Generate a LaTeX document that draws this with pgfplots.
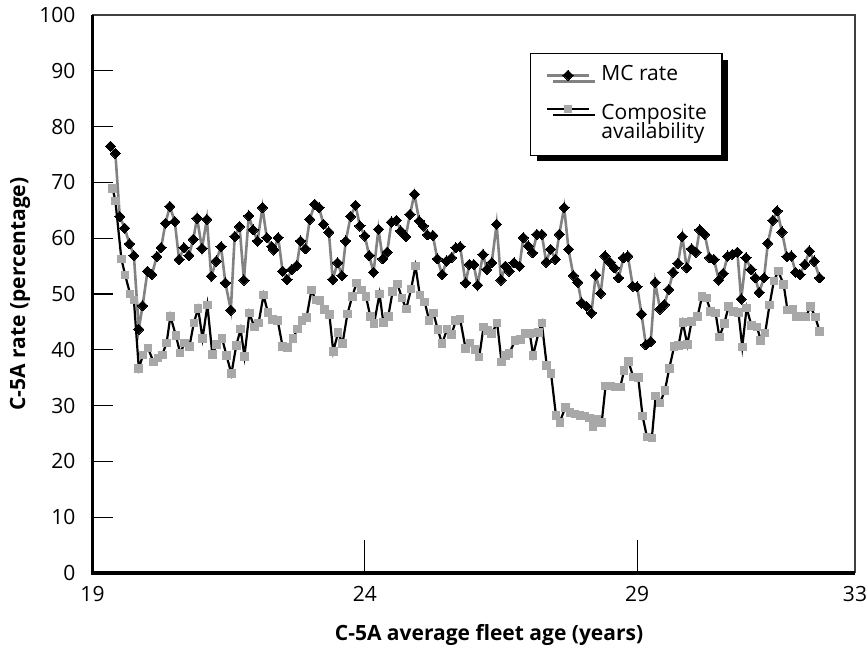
\documentclass[border=0pt]{standalone}
\usepackage{fontspec}
\setmainfont{Open Sans}
\usepackage{pgfplots}
\pgfplotsset{compat=1.18}
\usetikzlibrary{shadows}
\definecolor{mcline}{RGB}{130,130,130}
\definecolor{sqfill}{RGB}{168,168,168}
\pgfplotsset{
  baselegend/.style={legend image code/.code={\draw[mark repeat=2, mark phase=2, ##1] plot coordinates {(0pt,0pt) (10.5pt,0pt) (21pt,0pt)};}},
  raisedlegend/.style={legend image code/.code={\draw[mark repeat=2, mark phase=2, ##1] plot coordinates {(0pt,2.6pt) (10.5pt,2.6pt) (21pt,2.6pt)};}},
}
\begin{document}
\begin{tikzpicture}
\useasboundingbox (-46.25pt,-39.5pt) rectangle (387.75pt,286.5pt);
\begin{axis}[
  scale only axis,
  width=381.25pt, height=279pt,
  xmin=19, xmax=33, ymin=0, ymax=100,
  xtick={19,24,29,33},
  ytick={0,10,...,100},
  xtick style={draw=none},
  ytick pos=left,
  tick align=inside,
  major tick length=10pt,
  ytick style={line width=0.6pt,black},
  axis line style={draw=none},
  /pgf/number format/assume math mode=true,
  ticklabel style={font=\fontsize{10.5}{12}\selectfont},
  xticklabel style={yshift=-3pt},
  yticklabel style={xshift=-5pt},
  clip=false,
  baselegend,
  legend style={at={(0.574,0.932)}, anchor=north west, draw=black, line width=0.6pt, fill=white,
    drop shadow={shadow xshift=3pt, shadow yshift=-3pt, fill=black, opacity=1},
    font=\fontsize{10.5}{12}\selectfont, inner xsep=7.5pt, inner ysep=6pt, row sep=0pt, column sep=5.5pt,
    cells={anchor=west},
    nodes={inner xsep=0pt, inner ysep=0pt, text height=7.5pt, text depth=2.2pt}},
]
\addplot[mcline, line width=1.3pt, mark=square*, mark size=1.8pt, mark options={black, fill=black, rotate=45, line width=0pt}] coordinates {
(19.33,76.5)(19.42,75.2)(19.50,63.9)(19.59,61.8)(19.68,59.0)(19.76,56.9)(19.85,43.7)(19.92,47.9)
(20.01,54.1)(20.09,53.5)(20.18,56.7)(20.26,58.3)(20.34,62.7)(20.42,65.7)(20.51,63.0)(20.59,56.2)
(20.68,58.3)(20.77,56.9)(20.85,59.8)(20.92,63.6)(21.01,58.2)(21.10,63.4)(21.18,53.2)(21.27,55.9)
(21.36,58.5)(21.44,52.0)(21.54,47.1)(21.61,60.3)(21.70,62.1)(21.78,52.5)(21.87,64.0)(21.95,61.5)
(22.03,59.5)(22.12,65.5)(22.20,60.1)(22.29,58.5)(22.33,57.9)(22.41,60.1)(22.49,54.1)(22.57,52.6)
(22.66,54.4)(22.75,55.1)(22.82,59.5)(22.91,58.1)(22.99,63.4)(23.08,66.1)(23.16,65.5)(23.24,62.5)
(23.34,61.1)(23.41,52.6)(23.50,55.6)(23.58,53.3)(23.65,59.5)(23.74,63.9)(23.83,65.9)(23.91,62.2)
(24.00,60.4)(24.08,56.9)(24.16,53.9)(24.25,61.6)(24.33,56.3)(24.41,57.5)(24.49,62.9)(24.58,63.2)
(24.66,61.3)(24.75,60.3)(24.83,64.3)(24.91,67.9)(25.00,63.1)(25.07,62.2)(25.15,60.6)(25.25,60.5)
(25.33,56.3)(25.42,53.5)(25.50,55.9)(25.59,56.5)(25.67,58.3)(25.75,58.5)(25.85,52.0)(25.92,55.3)
(26.00,55.3)(26.07,51.6)(26.17,57.1)(26.24,54.4)(26.33,55.6)(26.42,62.5)(26.50,52.5)(26.58,55.0)
(26.65,54.1)(26.74,55.6)(26.84,55.0)(26.91,60.1)(27.00,58.6)(27.08,57.4)(27.16,60.7)(27.25,60.7)
(27.33,55.7)(27.41,58.0)(27.50,56.2)(27.57,60.7)(27.66,65.5)(27.74,58.0)(27.83,53.3)(27.91,52.1)
(27.98,48.4)(28.07,47.8)(28.16,46.6)(28.24,53.4)(28.33,50.1)(28.41,56.8)(28.50,55.7)(28.58,54.7)
(28.66,52.9)(28.75,56.5)(28.83,56.8)(28.92,51.4)(29.00,51.3)(29.08,46.4)(29.16,40.9)(29.25,41.5)
(29.33,52.1)(29.42,47.3)(29.50,48.1)(29.58,50.8)(29.66,53.9)(29.75,55.5)(29.83,60.3)(29.91,54.7)
(30.00,58.1)(30.08,57.5)(30.15,61.5)(30.24,60.7)(30.33,56.5)(30.41,56.2)(30.50,52.5)(30.58,53.7)
(30.66,56.8)(30.75,57.1)(30.84,57.5)(30.91,49.1)(31.00,56.5)(31.09,54.4)(31.17,52.9)(31.24,50.3)
(31.33,52.9)(31.40,59.1)(31.49,63.2)(31.57,64.9)(31.66,61.1)(31.75,56.7)(31.83,56.8)(31.91,53.9)
(31.99,53.5)(32.08,55.3)(32.16,57.7)(32.25,55.9)(32.35,52.9)
};
\addlegendentry{MC rate}
\addlegendimage{empty legend}
\addlegendentry{~}
\addplot[black, line width=1.1pt, mark=square*, mark size=1.9pt, mark options={sqfill, fill=sqfill, line width=0pt}, raisedlegend] coordinates {
(19.37,68.9)(19.42,66.7)(19.53,56.3)(19.60,53.4)(19.69,50.0)(19.76,48.9)(19.85,36.7)(19.93,39.1)
(20.02,40.3)(20.12,37.8)(20.20,38.5)(20.28,39.1)(20.36,41.2)(20.43,46.0)(20.53,42.6)(20.61,39.4)
(20.69,41.2)(20.78,40.6)(20.86,44.8)(20.94,47.4)(21.02,42.0)(21.11,48.0)(21.20,39.2)(21.28,40.9)
(21.38,42.0)(21.46,39.0)(21.55,35.7)(21.64,40.8)(21.72,43.7)(21.79,38.8)(21.88,46.6)(21.97,44.1)
(22.05,44.8)(22.14,49.8)(22.22,46.7)(22.31,45.4)(22.40,45.3)(22.49,40.6)(22.58,40.4)(22.68,42.0)
(22.76,43.7)(22.85,45.3)(22.93,45.8)(23.02,50.7)(23.10,48.9)(23.18,48.8)(23.26,47.2)(23.35,46.3)
(23.42,39.7)(23.51,43.1)(23.59,41.1)(23.68,46.4)(23.77,49.6)(23.85,52.0)(23.94,50.7)(24.02,49.6)
(24.10,46.0)(24.17,44.7)(24.27,50.0)(24.34,44.9)(24.43,46.0)(24.51,50.4)(24.60,51.8)(24.68,49.3)
(24.76,47.3)(24.85,50.9)(24.93,55.0)(25.01,49.8)(25.10,48.6)(25.18,45.3)(25.26,46.6)(25.34,43.6)
(25.42,41.1)(25.51,43.7)(25.59,42.7)(25.67,45.2)(25.75,45.5)(25.85,40.2)(25.93,41.2)(26.02,40.0)
(26.10,38.7)(26.18,44.1)(26.25,43.5)(26.33,42.9)(26.43,44.8)(26.51,37.8)(26.58,39.0)(26.65,39.3)
(26.76,41.7)(26.86,41.8)(26.94,42.9)(27.03,42.9)(27.09,39.0)(27.19,43.1)(27.25,44.8)(27.34,37.2)
(27.42,35.7)(27.51,28.2)(27.58,27.0)(27.68,29.7)(27.77,28.8)(27.86,28.5)(27.95,28.2)(28.03,28.1)
(28.12,27.8)(28.19,26.3)(28.26,27.6)(28.35,27.0)(28.42,33.5)(28.52,33.5)(28.59,33.3)(28.69,33.3)
(28.76,36.3)(28.84,37.9)(28.93,35.1)(29.02,35.0)(29.10,28.1)(29.18,24.4)(29.27,24.2)(29.34,31.7)
(29.42,30.5)(29.51,32.7)(29.59,36.7)(29.68,40.6)(29.76,40.8)(29.84,44.9)(29.92,40.9)(30.00,45.1)
(30.11,46.0)(30.19,49.5)(30.27,49.3)(30.35,46.9)(30.44,46.6)(30.51,42.3)(30.60,44.7)(30.68,47.8)
(30.77,46.9)(30.86,46.7)(30.93,40.5)(31.01,47.5)(31.10,44.3)(31.20,44.1)(31.27,41.7)(31.35,43.0)
(31.43,48.0)(31.51,52.3)(31.59,54.1)(31.69,51.7)(31.76,47.1)(31.86,47.2)(31.93,45.9)(32.02,46.0)
(32.10,45.9)(32.18,47.8)(32.27,45.9)(32.35,43.3)
};
\addlegendentry{Composite}
\addlegendimage{empty legend}
\addlegendentry{availability}
\draw[black!75, line width=0.8pt] (rel axis cs:0,1) -- (rel axis cs:1,1) -- (rel axis cs:1,0);
\draw[black, line width=1.6pt] (rel axis cs:0,1) -- (rel axis cs:0,0) -- (rel axis cs:1,0);
\draw[black, line width=0.6pt] (axis cs:24,0) -- ([yshift=16.5pt]axis cs:24,0);
\draw[black, line width=0.6pt] (axis cs:29,0) -- ([yshift=16.5pt]axis cs:29,0);
\node[font=\bfseries\fontsize{10.5}{12}\selectfont, rotate=90, anchor=center] at ([xshift=-36.25pt]rel axis cs:0,0.5) {C-5A rate (percentage)};
\node[font=\bfseries\fontsize{10.5}{12}\selectfont, anchor=center] at ([yshift=-31pt]rel axis cs:0.52,0) {C-5A average fleet age (years)};
\end{axis}
\end{tikzpicture}
\end{document}
